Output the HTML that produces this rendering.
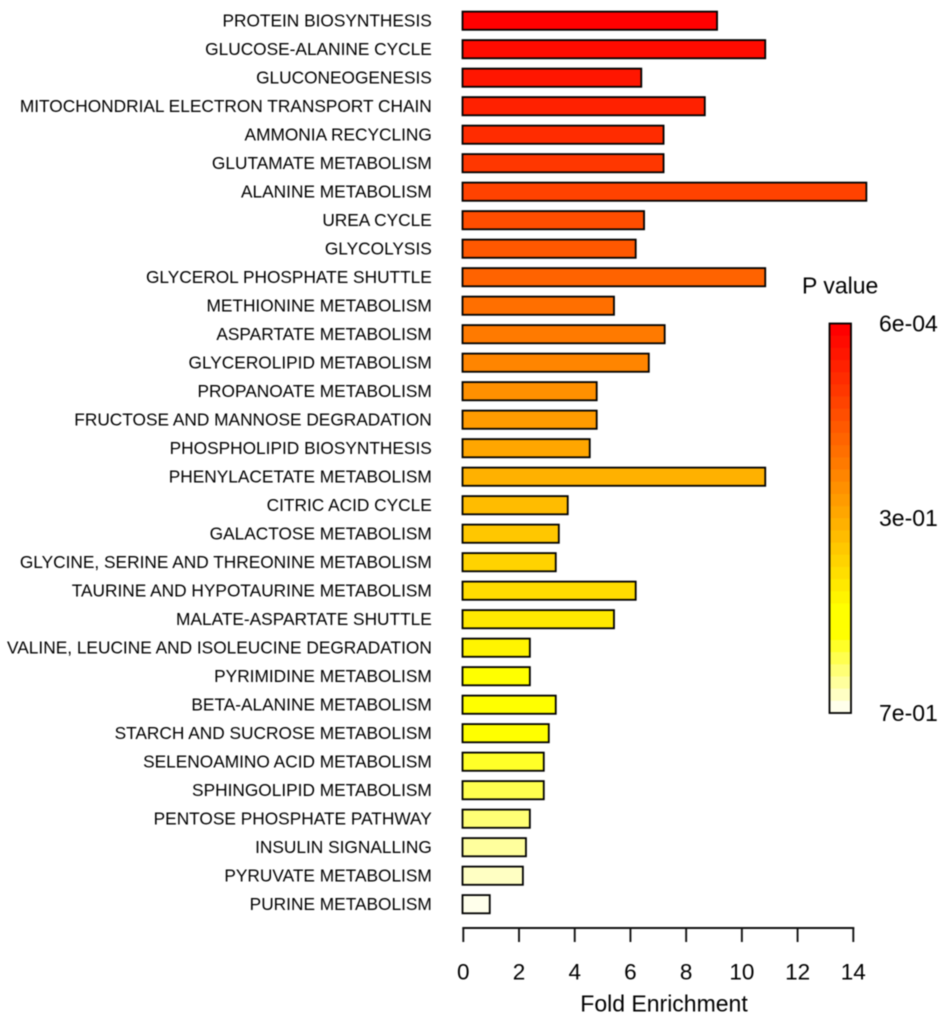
<!DOCTYPE html>
<html lang="en">
<head>
<meta charset="utf-8">
<title>Pathway Fold Enrichment</title>
<style>
  html, body { margin: 0; padding: 0; background: #fff; }
  body { width: 944px; height: 1024px; overflow: hidden; }
  svg { display: block; font-family: "Liberation Sans", sans-serif; fill: #000; filter: blur(0.4px); }
</style>
</head>
<body>
<svg id="chart" width="944" height="1024" viewBox="0 0 944 1024" xmlns="http://www.w3.org/2000/svg"></svg>
<script>
const categories = ["PROTEIN BIOSYNTHESIS","GLUCOSE-ALANINE CYCLE","GLUCONEOGENESIS","MITOCHONDRIAL ELECTRON TRANSPORT CHAIN","AMMONIA RECYCLING","GLUTAMATE METABOLISM","ALANINE METABOLISM","UREA CYCLE","GLYCOLYSIS","GLYCEROL PHOSPHATE SHUTTLE","METHIONINE METABOLISM","ASPARTATE METABOLISM","GLYCEROLIPID METABOLISM","PROPANOATE METABOLISM","FRUCTOSE AND MANNOSE DEGRADATION","PHOSPHOLIPID BIOSYNTHESIS","PHENYLACETATE METABOLISM","CITRIC ACID CYCLE","GALACTOSE METABOLISM","GLYCINE, SERINE AND THREONINE METABOLISM","TAURINE AND HYPOTAURINE METABOLISM","MALATE-ASPARTATE SHUTTLE","VALINE, LEUCINE AND ISOLEUCINE DEGRADATION","PYRIMIDINE METABOLISM","BETA-ALANINE METABOLISM","STARCH AND SUCROSE METABOLISM","SELENOAMINO ACID METABOLISM","SPHINGOLIPID METABOLISM","PENTOSE PHOSPHATE PATHWAY","INSULIN SIGNALLING","PYRUVATE METABOLISM","PURINE METABOLISM"];
const foldEnrichment = [9.12,10.85,6.4,8.68,7.2,7.2,14.48,6.5,6.2,10.85,5.42,7.24,6.67,4.8,4.8,4.55,10.85,3.76,3.44,3.33,6.2,5.42,2.4,2.4,3.33,3.08,2.9,2.9,2.4,2.26,2.15,0.96];
const pValues = [0.0006,0.022,0.045,0.068,0.09,0.113,0.135,0.158,0.18,0.203,0.226,0.248,0.271,0.293,0.316,0.339,0.361,0.384,0.406,0.429,0.451,0.474,0.497,0.519,0.542,0.564,0.587,0.61,0.632,0.655,0.677,0.7];
const xTicks = [0,2,4,6,8,10,12,14];
const legendLabels = ["6e-04","3e-01","7e-01"];
const legendLabelValues = [0.0006,0.35,0.7];

const svg = document.getElementById('chart');
const NS = 'http://www.w3.org/2000/svg';
const plot = { x0: 463.3, x14: 853.3, firstY: 20.7, step: 28.5, barH: 18.2, axisY: 928, tickLen: 14 };
const bar = { x: 829.5, w: 21.5, top: 323.5, bottom: 713, bands: 32 };

function xScale(v) { return plot.x0 + v * (plot.x14 - plot.x0) / 14; }
function yScale(i) { return plot.firstY + i * plot.step; }
function legendY(p) { return bar.top + (p - 0.0006) / (0.7 - 0.0006) * (bar.bottom - bar.top); }
function heat(p) {
  const t = Math.max(0, Math.min(1, (p - 0.0006) / (0.7 - 0.0006))) * 31;
  if (t <= 23) return 'rgb(255,' + Math.round(t / 23 * 255) + ',0)';
  if (t <= 25) return 'rgb(255,255,0)';
  return 'rgb(255,255,' + Math.round(40 + (t - 26) / 5 * 195) + ')';
}
function make(tag, attrs, text, parent) {
  const el = document.createElementNS(NS, tag);
  for (const k in attrs) el.setAttribute(k, attrs[k]);
  if (text !== undefined) el.textContent = text;
  (parent || svg).appendChild(el);
  return el;
}

categories.forEach(function (name, i) {
  const y = yScale(i);
  const slug = name.toLowerCase().replace(/[^a-z]+/g, '-');
  const label = make('text', { x: 431.8, y: y + 6, 'text-anchor': 'end', 'font-size': 17.3, fill: '#000' }, name);
  
  
  const rect = make('rect', {
    x: xScale(0) - 0.8, y: y - plot.barH / 2,
    width: xScale(foldEnrichment[i]) - xScale(0) + 0.5,
    height: plot.barH, fill: heat(pValues[i]), stroke: '#000', 'stroke-width': 1.8
  });
  
  
});

const axisLine = make('line', { x1: xScale(xTicks[0]) - 1, x2: xScale(xTicks[xTicks.length - 1]) + 1, y1: plot.axisY, y2: plot.axisY, stroke: '#111', 'stroke-width': 1.9 });



xTicks.forEach(function (t) {
  const tick = make('line', { x1: xScale(t), x2: xScale(t), y1: plot.axisY, y2: plot.axisY + plot.tickLen, stroke: '#111', 'stroke-width': 1.9 });
  
  
  const lab = make('text', { x: xScale(t), y: 979.5, 'text-anchor': 'middle', 'font-size': 22.5, fill: '#000' }, String(t));
  
  
});

const xTitle = make('text', { x: 664, y: 1011.5, 'text-anchor': 'middle', 'font-size': 23, fill: '#000' }, 'Fold Enrichment');



const legendTitle = make('text', { x: 802, y: 293.5, 'font-size': 23, fill: '#000' }, 'P value');



const bandH = (bar.bottom - bar.top) / bar.bands;
for (let b = 0; b < bar.bands; b++) {
  const p = 0.0006 + (b / (bar.bands - 1)) * (0.7 - 0.0006);
  const band = make('rect', { x: bar.x, y: bar.top + b * bandH, width: bar.w, height: bandH + 0.4, fill: heat(p) });
  
  
}
const legendFrame = make('rect', { x: bar.x, y: bar.top, width: bar.w, height: bar.bottom - bar.top, fill: 'none', stroke: '#000', 'stroke-width': 1.8 });



legendLabels.forEach(function (txt, i) {
  const lab = make('text', { x: 879, y: legendY(legendLabelValues[i]) + 8, 'font-size': 23, fill: '#000' }, txt);
  
  
});
</script>
</body>
</html>
